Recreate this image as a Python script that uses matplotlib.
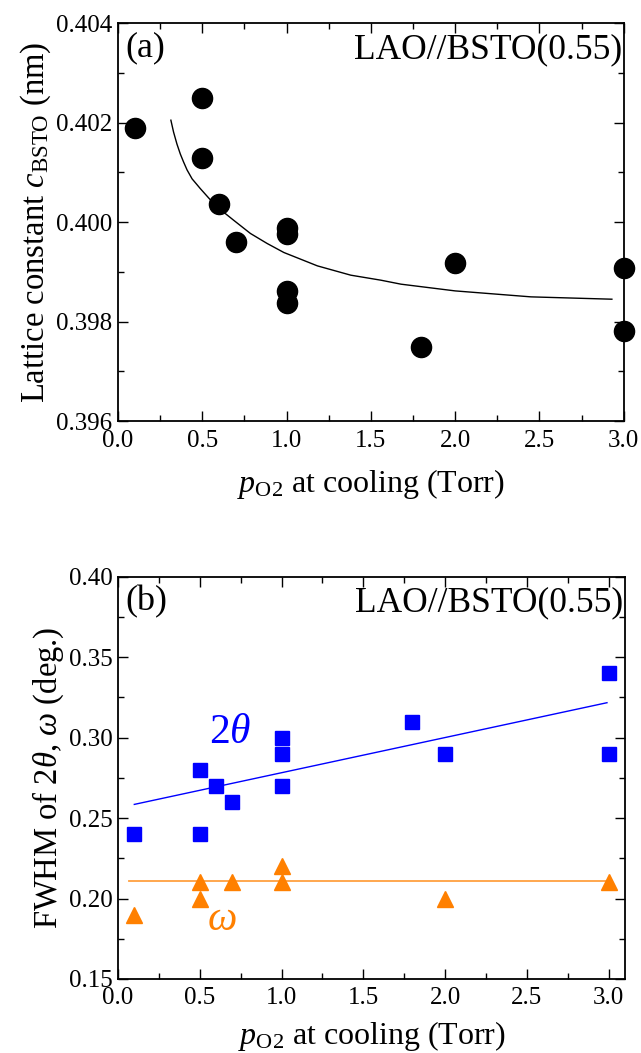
import matplotlib
matplotlib.use("Agg")
import matplotlib.pyplot as plt
from matplotlib.ticker import MultipleLocator, FormatStrFormatter

plt.rcParams['font.family'] = ['Liberation Serif', 'DejaVu Serif']
plt.rcParams['mathtext.fontset'] = 'custom'
plt.rcParams['mathtext.rm'] = 'Liberation Serif'
plt.rcParams['mathtext.it'] = 'Liberation Serif:italic'
plt.rcParams['mathtext.bf'] = 'Liberation Serif:bold'

# Panel (a): lattice constant
pa_x = [0.1, 0.5, 0.5, 0.6, 0.7, 1.0, 1.0, 1.0, 1.0, 1.8, 2.0, 3.0, 3.0]
pa_c = [0.40189, 0.40249, 0.40128, 0.40036, 0.39960, 0.39988, 0.39976,
        0.39862, 0.39838, 0.39749, 0.39917, 0.39907, 0.39782]
fit_a_x = [0.314, 0.33, 0.35, 0.37, 0.389, 0.41, 0.44, 0.465, 0.488, 0.54,
           0.5875, 0.686, 0.786, 0.885, 0.984, 1.183, 1.381, 1.56, 1.679,
           2.0, 2.45, 2.93]
fit_a_c = [0.40205, 0.40181, 0.40157, 0.40137, 0.401212, 0.40105, 0.40087,
           0.40077, 0.400677, 0.40048, 0.400308, 0.40004, 0.399773, 0.399572,
           0.399391, 0.399122, 0.398935, 0.398834, 0.398754, 0.398619,
           0.398499, 0.398452]

# Panel (b): FWHM
pb_x_2t = [0.1, 0.5, 0.5, 0.6, 0.7, 1.0, 1.0, 1.0, 1.8, 2.0, 3.0, 3.0]
pb_2t = [0.24, 0.28, 0.24, 0.27, 0.26, 0.30, 0.29, 0.27, 0.31, 0.29, 0.34, 0.29]
pb_x_w = [0.1, 0.5, 0.5, 0.7, 1.0, 1.0, 2.0, 3.0]
pb_w = [0.19, 0.21, 0.20, 0.21, 0.22, 0.21, 0.20, 0.21]
fit_2t_x = [0.1, 2.99]
fit_2t_y = [0.2585, 0.3217]
fit_w_x = [0.07, 3.0]
fit_w_y = [0.2111, 0.2111]

BLUE = '#0000FF'
ORANGE = '#FF8000'
TICK_FS = 18
XLABEL_FS = 23
YLABEL_FS = 23.5
ANNOT_FS = 25.5
PANEL_FS = 26

fig = plt.figure(figsize=(6.41, 10.53), dpi=100)
ax1 = fig.add_axes([0.184, 0.600, 0.789, 0.378])
ax2 = fig.add_axes([0.184, 0.0703, 0.791, 0.382])

def style(ax):
    for s in ax.spines.values():
        s.set_linewidth(1.3)
    ax.tick_params(which='both', direction='in', top=True, right=True,
                   labelsize=TICK_FS, width=1.0, pad=4)
    ax.tick_params(axis='x', pad=6)
    ax.tick_params(which='major', length=7)
    ax.tick_params(which='minor', length=4)

# (a)
ax1.plot(pa_x, pa_c, 'o', color='black', ms=14.5, clip_on=False, zorder=3)
ax1.plot(fit_a_x, fit_a_c, '-', color='black', lw=1.0)
ax1.set_xlim(0, 3.0)
ax1.set_ylim(0.396, 0.404)
ax1.xaxis.set_major_locator(MultipleLocator(0.5))
ax1.xaxis.set_minor_locator(MultipleLocator(0.25))
ax1.yaxis.set_major_locator(MultipleLocator(0.002))
ax1.yaxis.set_minor_locator(MultipleLocator(0.001))
ax1.xaxis.set_major_formatter(FormatStrFormatter('%.1f'))
ax1.yaxis.set_major_formatter(FormatStrFormatter('%.3f'))
style(ax1)
ax1.set_xlabel(r'$p_{\rm O2}$ at cooling (Torr)', fontsize=XLABEL_FS, labelpad=11)
ax1.set_ylabel(r'Lattice constant $c_{\rm BSTO}$ (nm)', fontsize=YLABEL_FS, labelpad=2)
ax1.text(0.015, 0.98, '(a)', transform=ax1.transAxes, fontsize=PANEL_FS,
         ha='left', va='top')
ax1.text(0.997, 0.975, 'LAO//BSTO(0.55)', transform=ax1.transAxes,
         fontsize=ANNOT_FS, ha='right', va='top')

# (b)
ax2.plot(pb_x_2t, pb_2t, 's', color=BLUE, ms=10.5, clip_on=False, zorder=3)
ax2.plot(pb_x_w, pb_w, '^', color=ORANGE, ms=11.5, clip_on=False, zorder=3)
ax2.plot(fit_2t_x, fit_2t_y, '-', color=BLUE, lw=1.0)
ax2.plot(fit_w_x, fit_w_y, '-', color='#FFA040', lw=1.3)
ax2.set_xlim(0, 3.1)
ax2.set_ylim(0.15, 0.40)
ax2.xaxis.set_major_locator(MultipleLocator(0.5))
ax2.xaxis.set_minor_locator(MultipleLocator(0.25))
ax2.yaxis.set_major_locator(MultipleLocator(0.05))
ax2.yaxis.set_minor_locator(MultipleLocator(0.025))
ax2.xaxis.set_major_formatter(FormatStrFormatter('%.1f'))
ax2.yaxis.set_major_formatter(FormatStrFormatter('%.2f'))
style(ax2)
ax2.set_xlabel(r'$p_{\rm O2}$ at cooling (Torr)', fontsize=XLABEL_FS, labelpad=7)
ax2.set_ylabel(r'FWHM of $2\theta$, $\omega$ (deg.)', fontsize=YLABEL_FS, labelpad=2)
ax2.text(0.015, 0.98, '(b)', transform=ax2.transAxes, fontsize=PANEL_FS,
         ha='left', va='top')
ax2.text(0.997, 0.975, 'LAO//BSTO(0.55)', transform=ax2.transAxes,
         fontsize=ANNOT_FS, ha='right', va='top')
ax2.text(0.685, 0.303, r'$2\theta$', color=BLUE, fontsize=30,
         ha='center', va='center')
ax2.text(0.636, 0.187, r'$\omega$', color=ORANGE, fontsize=30,
         ha='center', va='center')

fig.savefig('out.png', dpi=100)
